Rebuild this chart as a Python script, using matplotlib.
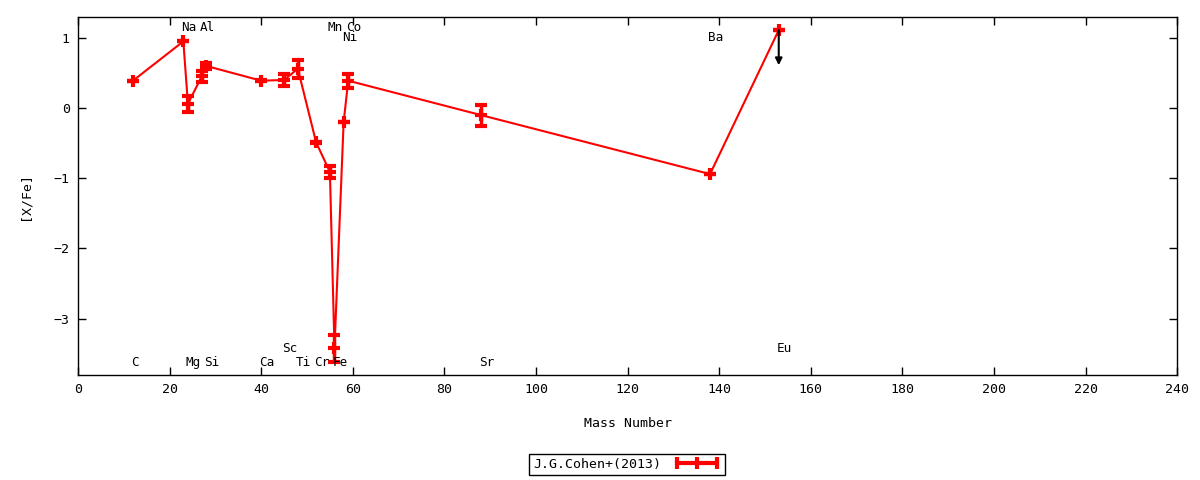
import numpy as np
import matplotlib
matplotlib.use("Agg")
import matplotlib.pyplot as plt
from matplotlib.lines import Line2D
from matplotlib.transforms import offset_copy

# [X/Fe] abundances, J.G.Cohen+(2013)
elements = ["C", "Na", "Mg", "Al", "Si", "Ca", "Sc", "Ti", "Cr", "Mn",
            "Fe", "Ni", "Co", "Sr", "Ba", "Eu"]
mass = [12, 23, 24, 27, 28, 40, 45, 48, 52, 55, 56, 58, 59, 88, 138, 153]
xfe = [0.39, 0.95, 0.06, 0.45, 0.60, 0.39, 0.40, 0.56, -0.49, -0.91,
       -3.42, -0.20, 0.39, -0.10, -0.94, 1.11]
xfe_err = [0.0, 0.0, 0.11, 0.08, 0.04, 0.01, 0.08, 0.13, 0.01, 0.08,
           0.19, 0.0, 0.10, 0.15, 0.0, 0.0]
upper_limit = ["Eu"]
# which text row each element name sits in (0,1 = top rows, 2,3 = bottom rows)
label_row = [2, 0, 2, 0, 2, 2, 3, 2, 2, 0, 2, 1, 0, 2, 1, 3]

plt.rcParams['font.family'] = ['DejaVu Sans Mono', 'DejaVu Sans']
plt.rcParams['font.size'] = 9.5

fig = plt.figure(figsize=(12, 4.8), dpi=100)
ax = fig.add_axes([0.065, 0.219, 0.916, 0.746])

ax.errorbar(mass, xfe, yerr=xfe_err, fmt='-', color='red', lw=1.5,
            marker='+', ms=9, mew=3, elinewidth=2.5, capsize=4, capthick=3)

# upper limit arrows
for el in upper_limit:
    i = elements.index(el)
    ax.annotate('', xy=(mass[i], xfe[i] - 0.5), xytext=(mass[i], xfe[i]),
                arrowprops=dict(arrowstyle='-|>', color='black', lw=1.5,
                                mutation_scale=10, shrinkA=0, shrinkB=0))

row_y = [1.15, 1.0, -3.63, -3.43]
tr = offset_copy(ax.transData, fig=fig, x=-2, y=0, units='dots')
for el, m, r in zip(elements, mass, label_row):
    ax.text(m, row_y[r], el, ha='left', va='center', transform=tr, fontsize=9.1)

ax.set_xlim(0, 240)
ax.set_ylim(-3.8, 1.3)
ax.set_xticks(np.arange(0, 241, 20))
ax.set_yticks([-3, -2, -1, 0, 1])
ax.tick_params(direction='in', top=True, right=True, length=6, width=1, pad=6)
for s in ax.spines.values():
    s.set_linewidth(1)

ax.set_xlabel('Mass Number', labelpad=15)
ax.set_ylabel('[X/Fe]', labelpad=16)

proxy = Line2D([], [], color='red', lw=3, marker='|', ms=9, mew=3)
leg = fig.legend([proxy], ['J.G.Cohen+(2013)'], loc='center',
                 bbox_to_anchor=(0.5225, 0.0323), markerfirst=False, numpoints=3,
                 fancybox=False, edgecolor='black', framealpha=1,
                 handlelength=3.6, handletextpad=0.9, borderpad=0.32,
                 borderaxespad=0)
leg.get_frame().set_linewidth(1)

fig.savefig('out.png', dpi=100)
